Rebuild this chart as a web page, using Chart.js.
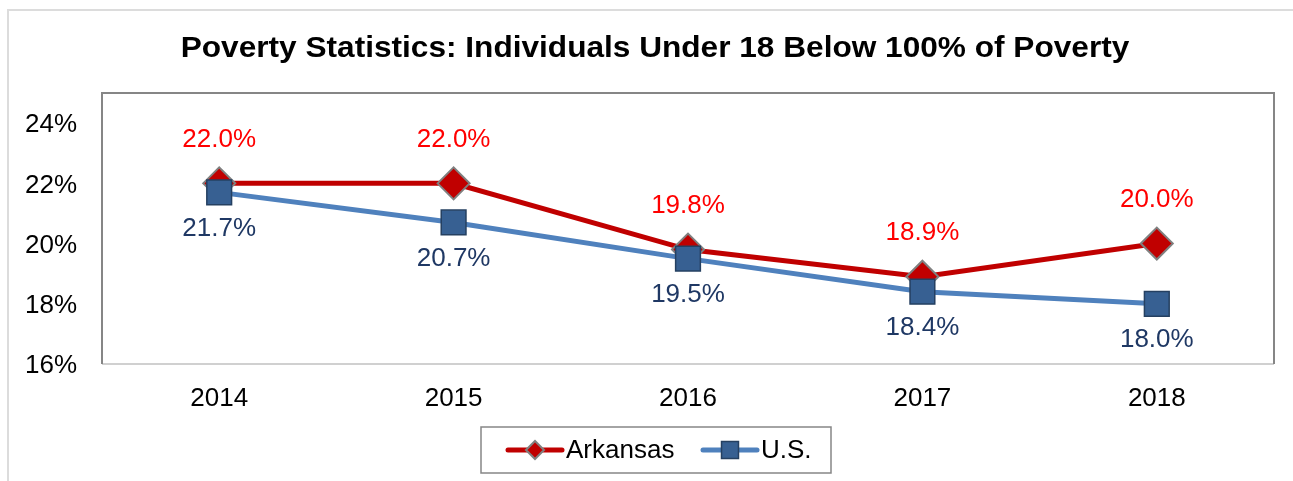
<!DOCTYPE html>
<html>
<head>
<meta charset="utf-8">
<title>Poverty Statistics</title>
<script src="https://cdn.jsdelivr.net/npm/chart.js@4/dist/chart.umd.min.js"></script>
<style>
    html, body { margin: 0; padding: 0; background: #fff; overflow: hidden; }
    #wrap { position: relative; width: 1293px; height: 481px; overflow: hidden; }
    #frame { position: absolute; left: 7px; top: 9px; width: 1400px; height: 600px; border: 2px solid #dcdcdc; box-sizing: border-box; }
    canvas { position: absolute; left: 0; top: 0; }
</style>
</head>
<body>
<div id="wrap">
    <div id="frame"></div>
    <canvas id="povertyChart" width="1293" height="481"></canvas>
</div>
<script>
// Chart data
const years = ['2014', '2015', '2016', '2017', '2018'];
const arkansas = [22.0, 22.0, 19.8, 18.9, 20.0];
const us = [21.7, 20.7, 19.5, 18.4, 18.0];
const yTicks = [16, 18, 20, 22, 24];

const chartTitle = 'Poverty Statistics: Individuals Under 18 Below 100% of Poverty';
const FONT = 'Arial, "Liberation Sans", sans-serif';

// Title, plot frame, value labels and legend are drawn by hand
const extras = {
    id: 'extras',
    beforeDraw(chart) {
        const ctx = chart.ctx;
        ctx.save();
        ctx.fillStyle = '#000';
        ctx.font = 'bold 29px ' + FONT;
        ctx.textAlign = 'center';
        ctx.textBaseline = 'middle';
        ctx.translate(655, 49);
        ctx.scale(1.09, 1);
        ctx.fillText(chartTitle, 0, 0);
        ctx.restore();
    },
    afterDatasetsDraw(chart) {
        const ctx = chart.ctx;
        const a = chart.chartArea;
        ctx.save();
        // plot frame
        ctx.lineWidth = 2;
        ctx.strokeStyle = '#d0d0d0';
        ctx.beginPath();
        ctx.moveTo(a.left, a.bottom);
        ctx.lineTo(a.right, a.bottom);
        ctx.stroke();
        ctx.strokeStyle = '#868686';
        ctx.beginPath();
        ctx.moveTo(a.left, a.bottom);
        ctx.lineTo(a.left, a.top);
        ctx.lineTo(a.right, a.top);
        ctx.lineTo(a.right, a.bottom);
        ctx.stroke();

        // value labels
        ctx.font = '26px ' + FONT;
        ctx.textAlign = 'center';
        ctx.textBaseline = 'middle';
        chart.data.datasets.forEach((ds, i) => {
            const meta = chart.getDatasetMeta(i);
            meta.data.forEach((pt, j) => {
                ctx.fillStyle = ds.labelColor;
                ctx.fillText(ds.data[j].toFixed(1) + '%', pt.x, pt.y + ds.labelOffset);
            });
        });

        // legend
        ctx.lineWidth = 1.5;
        ctx.strokeStyle = '#868686';
        ctx.strokeRect(481, 427, 350, 46);
        const items = [
            { x: 508, text: 'Arkansas', ds: chart.data.datasets[0], r: 9 },
            { x: 703, text: 'U.S.', ds: chart.data.datasets[1], r: 12 }
        ];
        const cy = 450;
        items.forEach(it => {
            ctx.strokeStyle = it.ds.borderColor;
            ctx.lineWidth = 5;
            ctx.lineCap = 'round';
            ctx.beginPath();
            ctx.moveTo(it.x, cy);
            ctx.lineTo(it.x + 54, cy);
            ctx.stroke();
            ctx.lineCap = 'butt';
            ctx.fillStyle = it.ds.pointBackgroundColor;
            ctx.strokeStyle = it.ds.pointBorderColor;
            ctx.lineWidth = it.ds.pointBorderWidth;
            Chart.helpers.drawPoint(ctx, {
                pointStyle: it.ds.pointStyle,
                radius: it.r,
                borderWidth: it.ds.pointBorderWidth
            }, it.x + 27, cy);
            ctx.fillStyle = '#000';
            ctx.font = '26px ' + FONT;
            ctx.textAlign = 'left';
            ctx.fillText(it.text, it.x + 58, cy + 1);
        });
        ctx.restore();
    }
};

const ctx = document.getElementById('povertyChart').getContext('2d');
const povertyChart = new Chart(ctx, {
    type: 'line',
    data: {
        labels: years,
        datasets: [
            {
                label: 'Arkansas',
                data: arkansas,
                order: 1,
                borderColor: '#C00000',
                borderWidth: 5,
                pointStyle: 'rectRot',
                pointRadius: 16,
                pointBackgroundColor: '#C00000',
                pointBorderColor: '#808080',
                pointBorderWidth: 2,
                labelColor: '#FF0000',
                labelOffset: -44,
                tension: 0
            },
            {
                label: 'U.S.',
                data: us,
                order: 0,  // drawn on top of Arkansas
                borderColor: '#4F81BD',
                borderWidth: 5,
                pointStyle: 'rect',
                pointRadius: 17.5,
                pointBackgroundColor: '#376092',
                pointBorderColor: '#254061',
                pointBorderWidth: 1.5,
                labelColor: '#1F3864',
                labelOffset: 36,
                tension: 0
            }
        ]
    },
    options: {
        responsive: false,
        animation: false,
        events: [],
        layout: { padding: { left: 0, right: 18, top: 93, bottom: 71 } },
        plugins: {
            legend: { display: false },
            title: { display: false },
            tooltip: { enabled: false }
        },
        scales: {
            x: {
                offset: true,
                grid: { display: false, drawTicks: false },
                border: { display: false },
                afterFit: scale => { scale.height = 46; },
                ticks: { color: '#000', font: { family: FONT, size: 26 }, padding: 19 }
            },
            y: {
                min: 16,
                max: 25,
                grid: { display: false, drawTicks: false },
                border: { display: false },
                afterBuildTicks: scale => { scale.ticks = yTicks.map(v => ({ value: v })); },
                afterFit: scale => { scale.width = 102; },
                ticks: {
                    color: '#000',
                    font: { family: FONT, size: 26 },
                    padding: 25,
                    labelOffset: 2,
                    callback: v => v + '%'
                }
            }
        }
    },
    plugins: [extras]
});
</script>
</body>
</html>
